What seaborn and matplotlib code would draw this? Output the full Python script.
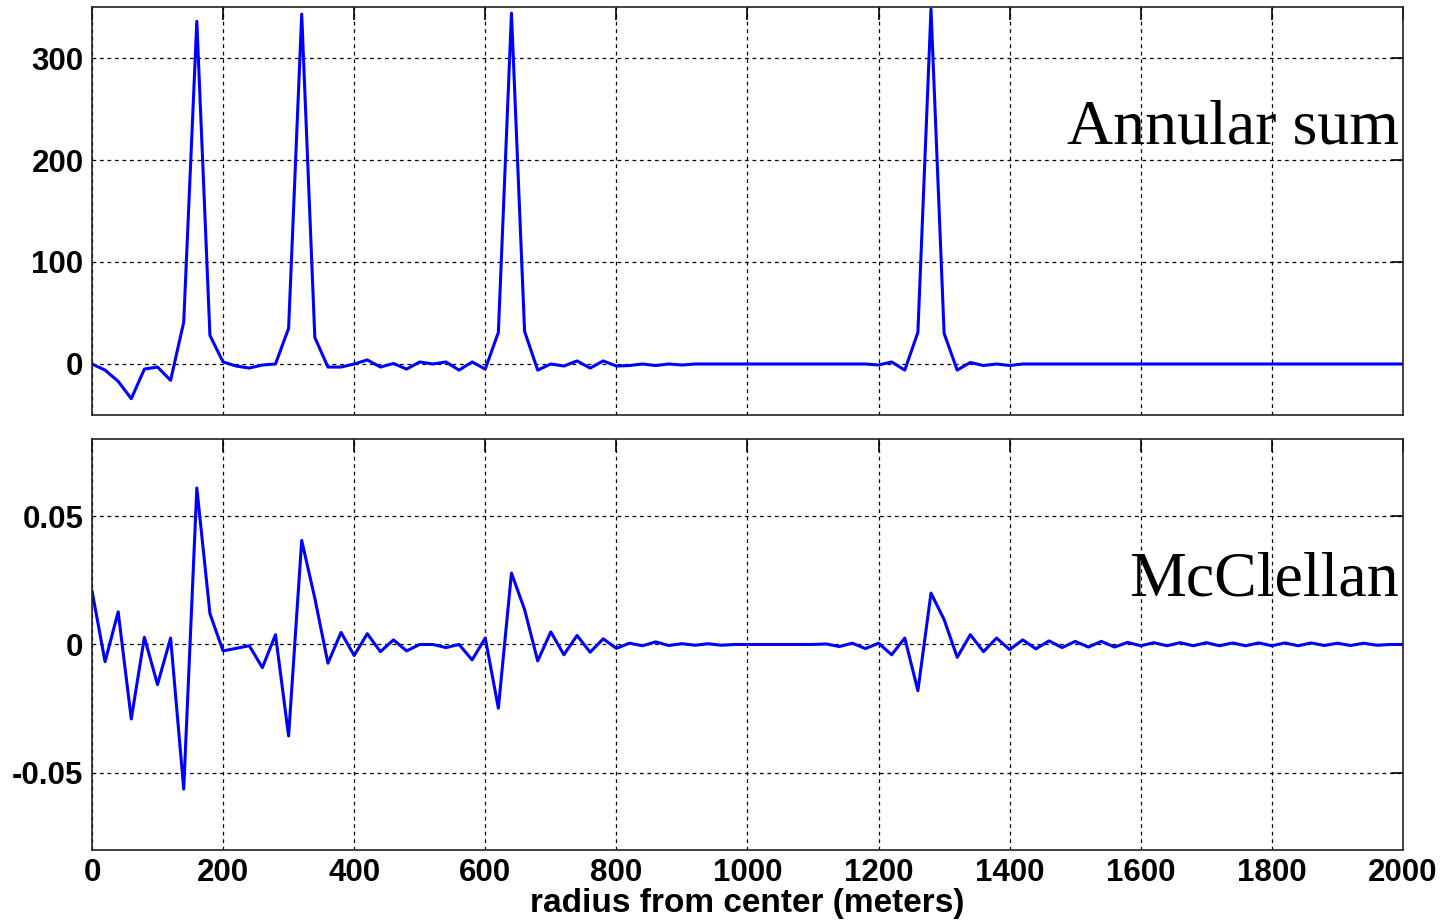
import numpy as np
import pandas as pd
import matplotlib
matplotlib.use("Agg")
import matplotlib.pyplot as plt
import seaborn as sns

# radius grid (meters), one sample every 20 m
radius = np.arange(0, 2001, 20)

annular_sum = [
    0, -6, -17, -34, -5, -3, -16, 41, 336, 28,
    2, -2, -4, -1, 0, 35, 343, 26, -3, -3,
    0, 4, -3, 0.5, -5, 2, 0, 2, -6, 2,
    -5, 31, 344, 32, -6, 0, -2, 3, -4, 3,
    -2, -1.5, 0, -1.5, 0, -1, 0, 0, 0, 0,
    0, 0, 0, 0, 0, 0, 0, 0, 0, 0,
    -1, 2, -6, 31, 348, 30, -6, 1.5, -1.5, 0,
    -1.5, 0, 0, 0, 0, 0, 0, 0, 0, 0,
    0, 0, 0, 0, 0, 0, 0, 0, 0, 0,
    0, 0, 0, 0, 0, 0, 0, 0, 0, 0,
    0,
]

mcclellan = [
    0.021, -0.0067, 0.0127, -0.029, 0.0028, -0.0156, 0.0025, -0.0563, 0.0609, 0.012,
    -0.0025, -0.0015, -0.0005, -0.009, 0.0038, -0.0356, 0.0405, 0.018, -0.0073, 0.0047,
    -0.0043, 0.0042, -0.0028, 0.0018, -0.0025, 0.0, 0.0, -0.0012, 0.0, -0.006,
    0.0025, -0.0248, 0.0278, 0.0136, -0.0064, 0.0049, -0.004, 0.0035, -0.003, 0.0022,
    -0.0015, 0.0005, -0.0005, 0.001, -0.0004, 0.0003, -0.0003, 0.0003, -0.0003, 0.0,
    0.0, 0.0, 0.0, 0.0, 0.0, 0.0, 0.0002, -0.0008, 0.0005, -0.0016,
    0.0005, -0.004, 0.0025, -0.018, 0.020, 0.0097, -0.005, 0.0038, -0.0028, 0.0025,
    -0.002, 0.0018, -0.0017, 0.0014, -0.0012, 0.0012, -0.001, 0.0012, -0.001, 0.0008,
    -0.0005, 0.0007, -0.0005, 0.0007, -0.0005, 0.0007, -0.0005, 0.0006, -0.0005, 0.0006,
    -0.0005, 0.0006, -0.0005, 0.0006, -0.0004, 0.0005, -0.0004, 0.0005, -0.0003, 0.0,
    0.0,
]

x_ticks = list(range(0, 2001, 200))
top_yticks = [0, 100, 200, 300]
bot_yticks = [-0.05, 0, 0.05]
bot_yticklabels = ["-0.05", "0", "0.05"]

df = pd.DataFrame({"radius": radius, "annular": annular_sum, "mcclellan": mcclellan})

sns.set_style("white")
plt.rcParams["font.family"] = ["Liberation Sans", "DejaVu Sans"]
plt.rcParams["text.color"] = "black"
plt.rcParams["xtick.color"] = "black"
plt.rcParams["ytick.color"] = "black"
plt.rcParams["axes.labelcolor"] = "black"

fig = plt.figure(figsize=(14.48, 9.22), dpi=100)
ax1 = fig.add_axes([0.0635, 0.5499, 0.9054, 0.4425])
ax2 = fig.add_axes([0.0635, 0.0781, 0.9054, 0.4458])

blue = "#0000ff"
sns.lineplot(data=df, x="radius", y="annular", ax=ax1, color=blue, linewidth=2.2)
sns.lineplot(data=df, x="radius", y="mcclellan", ax=ax2, color=blue, linewidth=2.2)

TS = 22.5
for ax in (ax1, ax2):
    ax.set_xlim(0, 2000)
    ax.set_xticks(x_ticks)
    ax.grid(True, color="black", linestyle=(0, (3, 3)), linewidth=0.9)
    ax.set_axisbelow(True)
    for sp in ax.spines.values():
        sp.set_color("#222222")
        sp.set_linewidth(1.2)
    ax.tick_params(direction="in", length=9, width=1.2, top=True, right=True,
                   labelsize=TS, pad=6, colors="black")
    ax.set_ylabel("")

ax1.set_ylim(-50, 350)
ax1.set_yticks(top_yticks)
ax1.set_yticklabels([str(t) for t in top_yticks], fontweight="bold", fontsize=TS)
ax1.set_xticklabels([])
ax1.set_xlabel("")

ax2.set_ylim(-0.08, 0.08)
ax2.set_yticks(bot_yticks)
ax2.set_yticklabels(bot_yticklabels, fontweight="bold", fontsize=TS)
ax2.set_xticklabels([str(t) for t in x_ticks], fontweight="bold", fontsize=TS)
ax2.set_xlabel("radius from center (meters)", fontweight="bold", fontsize=24,
               labelpad=0, color="black")

ax1.text(0.997, 0.665, "Annular sum", transform=ax1.transAxes, ha="right",
         va="baseline", fontsize=46, color="black",
         family=["Liberation Serif", "DejaVu Serif"])
ax2.text(0.997, 0.62, "McClellan", transform=ax2.transAxes, ha="right",
         va="baseline", fontsize=46, color="black",
         family=["Liberation Serif", "DejaVu Serif"])

fig.savefig("out.png", dpi=100, facecolor="white")
